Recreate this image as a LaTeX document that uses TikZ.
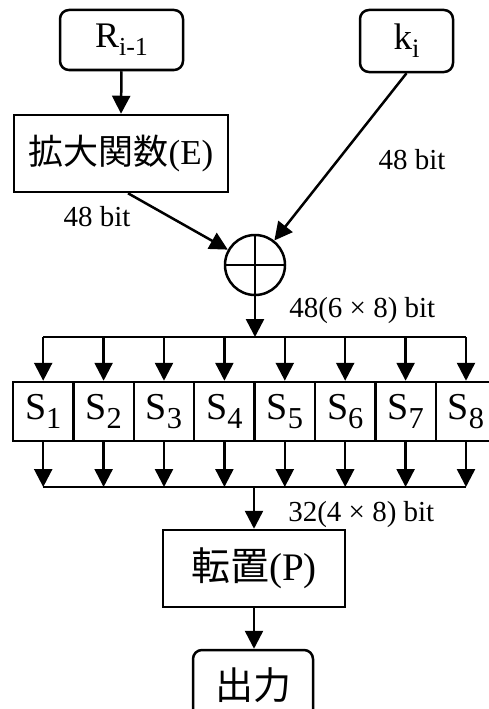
\documentclass[tikz,border=0pt]{standalone}
\usepackage{fontspec}
\setmainfont{Liberation Serif}
\newfontfamily\jpfont{Noto Sans CJK JP}
\usepackage{graphicx}
\usetikzlibrary{arrows.meta}
\newcommand{\lowsub}[1]{\raisebox{-0.22em}{\scalebox{0.72}{#1}}}
\newcommand{\boxsub}[1]{\raisebox{-0.25em}{\scalebox{0.8}{#1}}}

\begin{document}
\begin{tikzpicture}[x=1pt,y=-1pt,line width=2.5pt,
  arr/.style={-{Triangle[length=18pt,width=18pt]}},
  rbox/.style={draw,rounded corners=9pt,inner sep=0pt},
  fbox/.style={draw,inner sep=0pt},
  sbox/.style={draw,inner sep=0pt,minimum width=60.4pt,minimum height=59pt,font=\fontsize{38}{38}\selectfont},
  lbl/.style={inner sep=0pt,font=\fontsize{29}{29}\selectfont}]

\useasboundingbox (0,0) rectangle (488,709);

% ingressi
\node[rbox,minimum width=123pt,minimum height=60pt,font=\fontsize{36}{36}\selectfont] (rin) at (121.5,40) {R\lowsub{i-1}};
\node[rbox,minimum width=93pt,minimum height=62pt,font=\fontsize{37}{37}\selectfont] (ki) at (406.5,41) {k\lowsub{i}};
\node[fbox,minimum width=214pt,minimum height=77pt,font=\fontsize{35}{35}\selectfont] (expand) at (121,153.5) {{\jpfont 拡大関数}(E)};
\draw[arr] (rin.south) -- (expand.north);

% XOR
\node[draw,circle,inner sep=0pt,minimum size=60pt] (xor) at (255,265) {};
\draw (xor.north) -- (xor.south);
\draw (xor.west) -- (xor.east);
\draw[arr] ([xshift=7pt]expand.south) -- (xor);
\draw[arr] (ki.south) -- (xor);
\node[lbl] (l1) at (97,217) {48 bit};
\node[lbl] (l2) at (412,160) {48 bit};

% S-box
\coordinate (split) at (255,337);
\coordinate (join) at (254,487);
\draw[arr] (xor.south) -- (split);
\node[lbl,anchor=west] (l3) at (288,311) {48(6 × 8) bit};
\foreach \i in {1,...,8} {
  \node[sbox] (s\i) at ({43.2+60.4*(\i-1)},411.5) {S\boxsub{\i}};
  \draw[arr] (s\i.north |- split) -- (s\i.north);
  \draw[arr] (s\i.south) -- (s\i.south |- join);
}
\draw (s1.north |- split) -- (s8.north |- split);
\draw (s1.south |- join) -- (s8.south |- join);

% uscita
\node[fbox,minimum width=182pt,minimum height=77pt,font=\fontsize{39}{39}\selectfont] (perm) at (254,568.5) {{\jpfont 転置}(P)};
\node[rbox,minimum width=120pt,minimum height=70pt,font=\fontsize{38}{38}\selectfont] (out) at (253,685) {\jpfont 出力};
\draw[arr] (join) -- (perm.north);
\node[lbl,anchor=west] (l4) at (287,515) {32(4 × 8) bit};
\draw[arr] (perm.south) -- (perm.south |- out.north);

\end{tikzpicture}
\end{document}
